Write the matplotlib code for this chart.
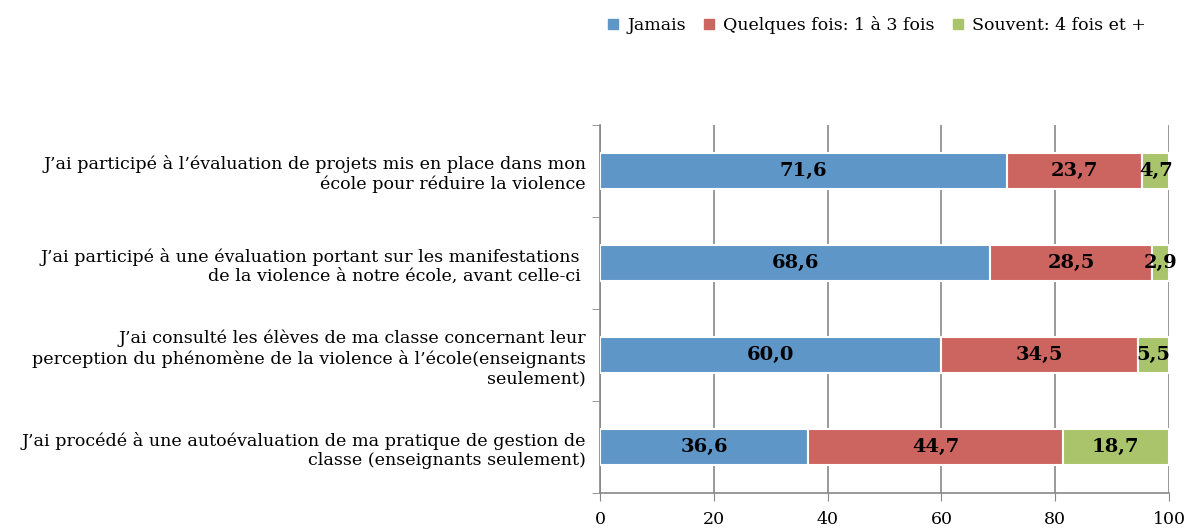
import matplotlib
matplotlib.use("Agg")
import matplotlib.pyplot as plt
from matplotlib.lines import Line2D
import numpy as np

plt.rcParams['font.family'] = ['DejaVu Serif']

categories = [
    "J\u2019ai participé à l\u2019évaluation de projets mis en place dans mon\nécole pour réduire la violence",
    "J\u2019ai participé à une évaluation portant sur les manifestations \nde la violence à notre école, avant celle-ci ",
    "J\u2019ai consulté les élèves de ma classe concernant leur\nperception du phénomène de la violence à l\u2019école(enseignants\nseulement)",
    "J\u2019ai procédé à une autoévaluation de ma pratique de gestion de\nclasse (enseignants seulement)",
]
series_names = ["Jamais", "Quelques fois: 1 à 3 fois", "Souvent: 4 fois et +"]
jamais = [71.6, 68.6, 60.0, 36.6]
quelques = [23.7, 28.5, 34.5, 44.7]
souvent = [4.7, 2.9, 5.5, 18.7]
colors = ["#5F96C8", "#CC6560", "#A9C46A"]
xticks = [0, 20, 40, 60, 80, 100]

fig = plt.figure(figsize=(11.88, 5.31), dpi=100)
ax = fig.add_axes([600/1188, 1-493/531, 569/1188, 368/531])

y = np.arange(len(categories))
left = np.zeros(len(categories))
for vals, col, name in zip([jamais, quelques, souvent], colors, series_names):
    v = np.array(vals)
    ax.barh(y, v, left=left, height=0.4, color=col, edgecolor='white', linewidth=1.5, label=name, zorder=3)
    for yi, (l, w) in enumerate(zip(left, v)):
        ax.text(l + w/2, yi, f"{w:.1f}".replace('.', ','), ha='center', va='center',
                fontsize=14, fontweight='bold', color='black', zorder=4)
    left = left + v

ax.set_xlim(0, 100)
ax.set_ylim(len(categories)-0.5, -0.5)
ax.set_xticks(xticks)
ax.set_xticklabels([str(t) for t in xticks], fontsize=12.5)
ax.set_yticks(y)
ax.set_yticklabels(categories, fontsize=12.6, ha='right', linespacing=1.2)
ax.set_yticks(np.arange(len(categories)+1) - 0.5, minor=True)
ax.tick_params(axis='y', which='major', length=0, pad=10)
ax.tick_params(axis='y', which='minor', length=6, color='#888888')
ax.tick_params(axis='x', length=6, color='#888888', pad=7)
ax.grid(axis='x', color='#888888', linewidth=1.2, zorder=0)
for s in ['top', 'right']:
    ax.spines[s].set_visible(False)
for s in ['left', 'bottom']:
    ax.spines[s].set_color('#888888')
    ax.spines[s].set_linewidth(1.2)

handles = [Line2D([0], [0], marker='s', linestyle='none', markersize=6.5,
                  markerfacecolor=c, markeredgecolor=c) for c in colors]
fig.legend(handles, series_names, loc='center', bbox_to_anchor=(876/1188, 1-25/531),
           ncol=3, frameon=False, fontsize=12.5, handletextpad=0.4, columnspacing=0.95,
           handlelength=0.8)

fig.savefig("out.png", dpi=100)
